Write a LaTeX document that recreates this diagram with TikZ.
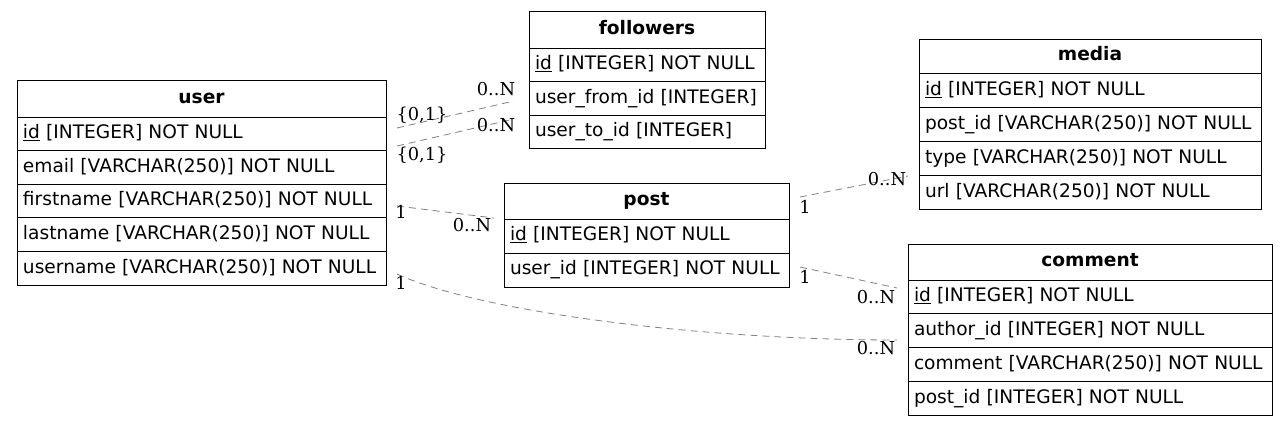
\documentclass[tikz,border=0pt]{standalone}
\usepackage{fontspec}
\setmainfont{DejaVu Sans}
\newfontfamily\lblfont{DejaVu Serif}
\begin{document}
\begin{tikzpicture}[x=1pt,y=-1pt,
  cell/.style={draw, line width=0.9pt, outer sep=0pt, anchor=north west, inner xsep=6pt, inner ysep=0pt,
    align=left, font=\fontsize{18.6}{20}\selectfont, text height=13.5pt, text depth=3.6pt},
  hdr/.style={cell, align=center, font=\fontsize{18.6}{20}\selectfont\bfseries},
  rel/.style={draw=gray, line width=0.8pt, dash pattern=on 7pt off 5pt},
  card/.style={font=\lblfont\fontsize{17.8}{20}\selectfont, inner sep=0pt}]
\useasboundingbox (0,0) rectangle (1288,426);
% user
\node[hdr, text width=357pt, minimum height=37pt] (user) at (17,80) {user};
\node[cell, text width=357pt, minimum height=33.6pt] (user-1) at (user.south west) {\underline{id} [INTEGER] NOT NULL};
\node[cell, text width=357pt, minimum height=33.6pt] (user-2) at (user-1.south west) {email [VARCHAR(250)] NOT NULL};
\node[cell, text width=357pt, minimum height=33.6pt] (user-3) at (user-2.south west) {firstname [VARCHAR(250)] NOT NULL};
\node[cell, text width=357pt, minimum height=33.6pt] (user-4) at (user-3.south west) {lastname [VARCHAR(250)] NOT NULL};
\node[cell, text width=357pt, minimum height=33.6pt] (user-5) at (user-4.south west) {username [VARCHAR(250)] NOT NULL};
% followers
\node[hdr, text width=224pt, minimum height=37pt] (fol) at (529,11) {followers};
\node[cell, text width=224pt, minimum height=33.6pt] (fol-1) at (fol.south west) {\underline{id} [INTEGER] NOT NULL};
\node[cell, text width=224pt, minimum height=33.6pt] (fol-2) at (fol-1.south west) {user\_from\_id [INTEGER]};
\node[cell, text width=224pt, minimum height=33.6pt] (fol-3) at (fol-2.south west) {user\_to\_id [INTEGER]};
% post
\node[hdr, text width=273pt, minimum height=36pt] (post) at (504,183) {post};
\node[cell, text width=273pt, minimum height=34pt] (post-1) at (post.south west) {\underline{id} [INTEGER] NOT NULL};
\node[cell, text width=273pt, minimum height=34pt] (post-2) at (post-1.south west) {user\_id [INTEGER] NOT NULL};
% media
\node[hdr, text width=330pt, minimum height=34pt] (media) at (919,39) {media};
\node[cell, text width=330pt, minimum height=34.2pt] (media-1) at (media.south west) {\underline{id} [INTEGER] NOT NULL};
\node[cell, text width=330pt, minimum height=34.2pt] (media-2) at (media-1.south west) {post\_id [VARCHAR(250)] NOT NULL};
\node[cell, text width=330pt, minimum height=34.2pt] (media-3) at (media-2.south west) {type [VARCHAR(250)] NOT NULL};
\node[cell, text width=330pt, minimum height=34.2pt] (media-4) at (media-3.south west) {url [VARCHAR(250)] NOT NULL};
% comment
\node[hdr, text width=352pt, minimum height=36pt] (com) at (908,244) {comment};
\node[cell, text width=352pt, minimum height=33.8pt] (com-1) at (com.south west) {\underline{id} [INTEGER] NOT NULL};
\node[cell, text width=352pt, minimum height=33.8pt] (com-2) at (com-1.south west) {author\_id [INTEGER] NOT NULL};
\node[cell, text width=352pt, minimum height=33.8pt] (com-3) at (com-2.south west) {comment [VARCHAR(250)] NOT NULL};
\node[cell, text width=352pt, minimum height=33.8pt] (com-4) at (com-3.south west) {post\_id [INTEGER] NOT NULL};
% connector end points
\coordinate (a1) at (397,128); \coordinate (b1) at (514,101);
\coordinate (a2) at (397,146); \coordinate (b2) at (514,119);
\coordinate (a3) at (397,206); \coordinate (b3) at (494,218);
\coordinate (a4) at (397,274); \coordinate (b4) at (897,340);
\coordinate (a5) at (800,197); \coordinate (b5) at (908,176);
\coordinate (a6) at (800,267); \coordinate (b6) at (897,288);
\draw[rel] (a1) -- (b1);
\draw[rel] (a2) -- (b2);
\draw[rel] (a3) -- (b3);
\draw[rel] (a4) .. controls (480,312) and (700,340) .. (b4);
\draw[rel] (a5) -- (b5);
\draw[rel] (a6) -- (b6);
% cardinalities
\node[card] (c1a) at (422,115) {\{0,1\}};
\node[card] (c1b) at (496,89) {0..N};
\node[card] (c2a) at (422,155) {\{0,1\}};
\node[card] (c2b) at (496,125) {0..N};
\node[card] (c3a) at (401,212) {1};
\node[card] (c3b) at (472,225) {0..N};
\node[card] (c4a) at (401,283) {1};
\node[card] (c4b) at (876,348) {0..N};
\node[card] (c5a) at (805,207) {1};
\node[card] (c5b) at (887,179) {0..N};
\node[card] (c6a) at (805,277) {1};
\node[card] (c6b) at (876,297) {0..N};
\end{tikzpicture}
\end{document}
